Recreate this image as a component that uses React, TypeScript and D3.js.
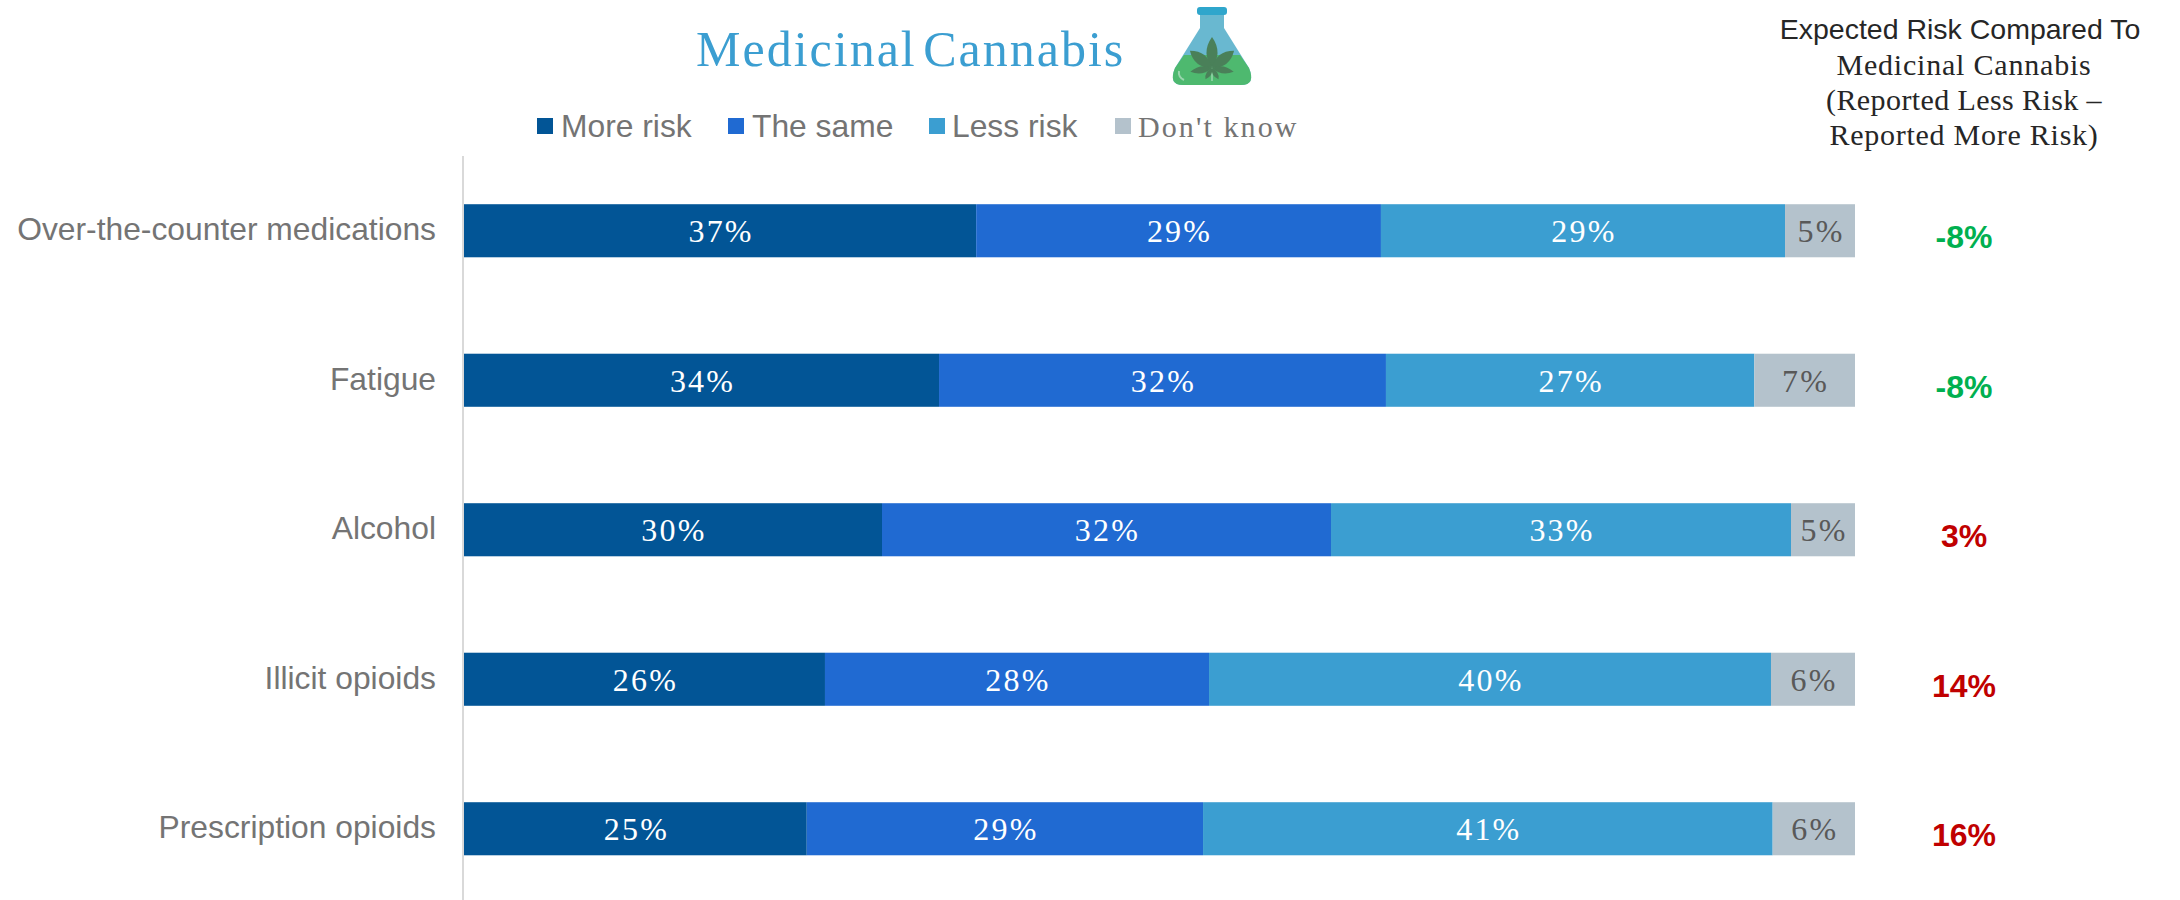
import React from "react";
import * as d3 from "d3";

const categories = ["Over-the-counter medications", "Fatigue", "Alcohol", "Illicit opioids", "Prescription opioids"];
const seriesNames = ["More risk", "The same", "Less risk", "Don't know"];
const moreRisk = [36.82, 34.15, 30.05, 25.95, 24.64];
const theSame = [29.1, 32.13, 32.28, 27.61, 28.49];
const lessRisk = [29.05, 26.48, 33.07, 40.4, 40.95];
const dontKnow = [5.03, 7.24, 4.6, 6.04, 5.92];
const moreLabels = ["37%", "34%", "30%", "26%", "25%"];
const sameLabels = ["29%", "32%", "32%", "28%", "29%"];
const lessLabels = ["29%", "27%", "33%", "40%", "41%"];
const dkLabels = ["5%", "7%", "5%", "6%", "6%"];
const netLabels = ["-8%", "-8%", "3%", "14%", "16%"];
const colors = ["#025596", "#206ad2", "#3b9ed1", "#b4c2cc"];
const netColors = ["#00b050", "#00b050", "#c00000", "#c00000", "#c00000"];

const seriesValues = [moreRisk, theSame, lessRisk, dontKnow];
const seriesLabels = [moreLabels, sameLabels, lessLabels, dkLabels];
const serif = "'Liberation Serif', serif";
const sans = "'Liberation Sans', sans-serif";

const leafBlades = [
  { angle: 0, len: 31, w: 11 },
  { angle: -52, len: 28, w: 11 },
  { angle: 52, len: 28, w: 11 },
  { angle: -100, len: 22, w: 7 },
  { angle: 100, len: 22, w: 7 },
  { angle: -150, len: 13, w: 5 },
  { angle: 150, len: 13, w: 5 },
];

function Flask() {
  return (
    <g>
      <path d="M1200 12 L1224 12 L1224 28 L1249 68 Q1256 85 1241 85 L1183 85 Q1168 85 1175 68 L1200 28 Z" fill="#69b8d0" />
      <path d="M1184 55 L1240 55 L1249 68 Q1256 85 1241 85 L1183 85 Q1168 85 1175 68 Z" fill="#4eb96f" />
      <rect x={1197} y={7} width={30} height={8} rx={3} fill="#2fa6cc" />
      <path d="M1179 71 Q1178 77 1184 80" fill="none" stroke="#9ad6ae" strokeWidth={2} />
      <line x1={1212} x2={1212} y1={66} y2={81} stroke="#86cf9d" strokeWidth={2} />
      <g transform="translate(1212,68)" fill="#4a8059">
        {leafBlades.map((b, i) => (
          <path
            key={i}
            transform={`rotate(${b.angle})`}
            d={`M0 0 Q${-b.w} ${-b.len * 0.5} 0 ${-b.len} Q${b.w} ${-b.len * 0.5} 0 0 Z`}
          />
        ))}
      </g>
    </g>
  );
}

export default function App() {
  const x = d3.scaleLinear().domain([0, 100]).range([464, 1855]);
  const y = d3.scaleBand<string>().domain(categories).range([156, 903.5]).paddingInner(0.645).paddingOuter(0.3225);
  const stacks = categories.map((_, i) => {
    const vals = seriesValues.map((s) => s[i]);
    const cum = d3.cumsum(vals);
    return vals.map((v, j) => ({ start: cum[j] - v, end: cum[j] }));
  });
  const legendX = [537, 728, 929, 1115];
  const legendTextX = [561, 752, 952, 1138];
  return (
    <svg width={2180} height={900} style={{ position: "absolute", left: 0, top: 0, background: "#fff" }}>
      <text x={696} y={66} fontFamily={serif} fontSize={50} fill="#3b9ed1" letterSpacing={2} wordSpacing={-8}>Medicinal Cannabis</text>
      <Flask />
      {seriesNames.map((n, i) => (
        <g key={n}>
          <rect x={legendX[i]} y={118} width={16} height={16} fill={colors[i]} />
          <text x={legendTextX[i]} y={137} fontFamily={i === 3 ? serif : sans} fontSize={i === 3 ? 30 : 31.8} fill="#747474" letterSpacing={i === 3 ? 2.1 : 0}>{n}</text>
        </g>
      ))}
      <line x1={463} x2={463} y1={156} y2={900} stroke="#d9d9d9" strokeWidth={2} />
      {categories.map((c, i) => {
        const yy = y(c)!;
        const h = y.bandwidth();
        return (
          <g key={c}>
            <text x={436} y={yy + h / 2 + 9.5} textAnchor="end" fontFamily={sans} fontSize={31.8} fill="#747474">{c}</text>
            {stacks[i].map((s, j) => (
              <g key={j}>
                <rect x={x(s.start)} y={yy} width={x(s.end) - x(s.start)} height={h} fill={colors[j]} />
                <text x={(x(s.start) + x(s.end)) / 2 + 1} y={yy + h / 2 + 11.5} textAnchor="middle" fontFamily={serif} fontSize={32} letterSpacing={2.2} fill={j === 3 ? "#595959" : "#ffffff"}>{seriesLabels[j][i]}</text>
              </g>
            ))}
            <text x={1964} y={yy + h / 2 + 17.5} textAnchor="middle" fontFamily={sans} fontWeight={700} fontSize={32} fill={netColors[i]}>{netLabels[i]}</text>
          </g>
        );
      })}
      <g textAnchor="middle" fill="#262626">
        <text x={1960} y={39} fontFamily={sans} fontSize={28.5}>Expected Risk Compared To</text>
        <text x={1964} y={74.5} fontFamily={serif} fontSize={30} letterSpacing={0.8}>Medicinal Cannabis</text>
        <text x={1964} y={109.5} fontFamily={serif} fontSize={30} letterSpacing={0.4}>(Reported Less Risk –</text>
        <text x={1964} y={145} fontFamily={serif} fontSize={30} letterSpacing={0.75}>Reported More Risk)</text>
      </g>
    </svg>
  );
}
